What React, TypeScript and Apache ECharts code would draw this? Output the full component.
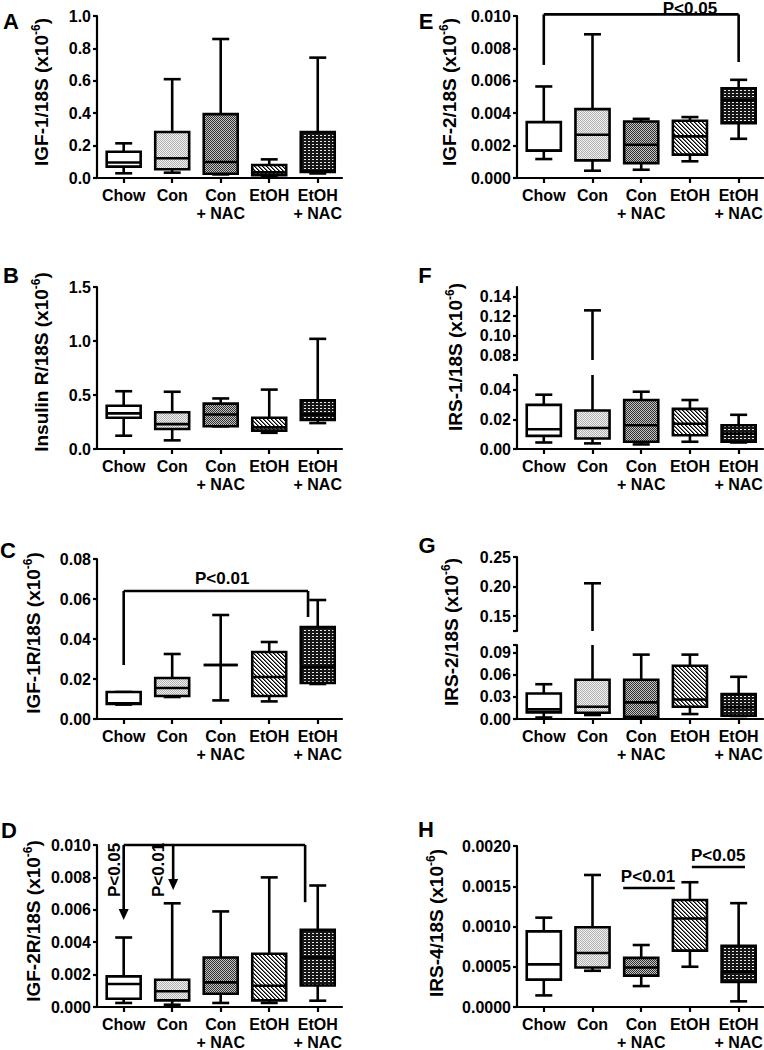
import React, { useEffect, useRef } from 'react';
import * as echarts from 'echarts';

// ---------- data ----------
const groupNames = ['Chow', 'Con', 'Con\n+ NAC', 'EtOH', 'EtOH\n+ NAC'];
const groupPositions = [0, 1, 2, 3, 4];

// each row: [min, Q1, median, Q3, max]
const igf1 = [
  [0.029, 0.07, 0.096, 0.162, 0.214],
  [0.033, 0.054, 0.122, 0.284, 0.61],
  [0.022, 0.026, 0.099, 0.394, 0.858],
  [0.012, 0.018, 0.035, 0.08, 0.115],
  [0.028, 0.038, 0.042, 0.284, 0.743],
];
const insulinR = [
  [0.123, 0.29, 0.33, 0.40, 0.535],
  [0.08, 0.185, 0.23, 0.34, 0.53],
  [0.21, 0.21, 0.32, 0.42, 0.468],
  [0.15, 0.17, 0.20, 0.29, 0.55],
  [0.24, 0.27, 0.32, 0.45, 1.02],
];
const igf1r = [
  [0.0072, 0.0075, 0.0078, 0.0135, 0.0135],
  [0.011, 0.0115, 0.0155, 0.0205, 0.0325],
  [0.0093, 0.027, 0.027, 0.027, 0.052],
  [0.0088, 0.0115, 0.021, 0.0335, 0.0385],
  [0.0175, 0.018, 0.026, 0.046, 0.0595],
];
const igf2r = [
  [0.00025, 0.00051, 0.00142, 0.00189, 0.00429],
  [0.00014, 0.00041, 0.00097, 0.00168, 0.0064],
  [0.00025, 0.00082, 0.00152, 0.00306, 0.0059],
  [0.00025, 0.00041, 0.00131, 0.00329, 0.008],
  [0.00039, 0.00133, 0.00306, 0.00476, 0.0075],
];
const igf2 = [
  [0.00117, 0.00168, 0.0017, 0.00345, 0.00565],
  [0.00045, 0.00109, 0.00267, 0.00425, 0.00887],
  [0.00051, 0.00092, 0.00205, 0.00349, 0.00365],
  [0.00103, 0.00144, 0.00257, 0.00353, 0.00376],
  [0.00242, 0.00339, 0.0048, 0.00554, 0.00606],
];
const irs1 = [
  [0.0044, 0.0089, 0.0133, 0.0298, 0.0367],
  [0.0038, 0.0071, 0.0142, 0.026, 0.126],
  [0.0031, 0.0049, 0.016, 0.0331, 0.0387],
  [0.0049, 0.0093, 0.0171, 0.0271, 0.0331],
  [0.0044, 0.0049, 0.0104, 0.016, 0.0231],
];
const irs2 = [
  [0.002, 0.009, 0.013, 0.0345, 0.047],
  [0.0054, 0.0085, 0.0165, 0.053, 0.2056],
  [0.001, 0.003, 0.0224, 0.053, 0.087],
  [0.0067, 0.0166, 0.0264, 0.072, 0.087],
  [0.004, 0.0045, 0.016, 0.0336, 0.057],
];
const irs4 = [
  [0.000144, 0.00034, 0.00053, 0.00094, 0.00111],
  [0.00045, 0.00049, 0.00067, 0.00099, 0.00164],
  [0.00026, 0.00039, 0.00049, 0.00061, 0.00077],
  [0.0005, 0.0007, 0.0011, 0.00133, 0.00155],
  [0.00007, 0.00031, 0.00044, 0.00076, 0.00129],
];

// tick labels
const ticksA = [0, 0.2, 0.4, 0.6, 0.8, 1.0];
const ticksB = [0, 0.5, 1.0, 1.5];
const ticksC = [0, 0.02, 0.04, 0.06, 0.08];
const ticksD = [0, 0.002, 0.004, 0.006, 0.008, 0.01];
const ticksE = [0, 0.002, 0.004, 0.006, 0.008, 0.01];
const ticksFUpper = [0.08, 0.10, 0.12, 0.14];
const ticksFLower = [0, 0.02, 0.04];
const ticksGUpper = [0.15, 0.20, 0.25];
const ticksGLower = [0, 0.03, 0.06, 0.09];
const ticksH = [0, 0.0005, 0.001, 0.0015, 0.002];

// significance annotations (data space)
const annC = {
  lines: [[0, 0.027, 0, 0.064], [0, 0.064, 3.8, 0.064], [3.8, 0.064, 3.8, 0.051]],
  arrows: [],
  texts: [{ text: 'P<0.01', x: 2.03, y: 0.0705, vertical: false }],
};
const annD = {
  lines: [[0, 0.01, 3.74, 0.01], [3.74, 0.01, 3.74, 0.00647]],
  arrows: [[0, 0.01, 0.00537], [1.02, 0.01, 0.00722]],
  texts: [
    { text: 'P<0.05', x: -0.18, y: 0.00846, vertical: true },
    { text: 'P<0.01', x: 0.71, y: 0.00846, vertical: true },
  ],
};
const annE = {
  lines: [[0, 0.00698, 0, 0.0101], [0, 0.0101, 4, 0.0101], [4, 0.0101, 4, 0.00716]],
  arrows: [],
  texts: [{ text: 'P<0.05', x: 3.0, y: 0.01047, vertical: false }],
};
const annH = {
  lines: [[1.63, 0.001478, 2.69, 0.001478], [3.04, 0.00174, 4.13, 0.00174]],
  arrows: [],
  texts: [
    { text: 'P<0.01', x: 2.14, y: 0.001615, vertical: false },
    { text: 'P<0.05', x: 3.58, y: 0.001876, vertical: false },
  ],
};

// ---------- style / layout ----------
const FONT = '"Liberation Sans", Arial, Helvetica, sans-serif';
const LW = 2.6;
const AXW = 2.2;

function makePattern(w: number, h: number, draw: (ctx: CanvasRenderingContext2D) => void) {
  const c = document.createElement('canvas');
  c.width = w;
  c.height = h;
  const ctx = c.getContext('2d') as CanvasRenderingContext2D;
  draw(ctx);
  return { image: c.toDataURL(), repeat: 'repeat', imageWidth: w, imageHeight: h };
}

function buildFills(): any[] {
  const con = makePattern(2, 2, (ctx) => {
    ctx.fillStyle = '#f2f2f2';
    ctx.fillRect(0, 0, 2, 2);
    ctx.fillStyle = '#b0b0b0';
    ctx.fillRect(0, 0, 1, 1);
    ctx.fillRect(1, 1, 1, 1);
  });
  const conNac = makePattern(2, 2, (ctx) => {
    ctx.fillStyle = '#c4c4c4';
    ctx.fillRect(0, 0, 2, 2);
    ctx.fillStyle = '#303030';
    ctx.fillRect(0, 0, 1, 1);
    ctx.fillRect(1, 1, 1, 1);
  });
  const etoh = makePattern(4, 4, (ctx) => {
    for (let y = 0; y < 4; y++) {
      for (let x = 0; x < 4; x++) {
        const m = (x - y + 8) % 4;
        ctx.fillStyle = m === 0 ? '#000' : m === 1 ? '#707070' : '#fff';
        ctx.fillRect(x, y, 1, 1);
      }
    }
  });
  const etohNac = makePattern(4, 3, (ctx) => {
    ctx.fillStyle = '#161616';
    ctx.fillRect(0, 0, 4, 3);
    ctx.fillStyle = '#e8e8e8';
    ctx.fillRect(0, 0, 2, 1);
  });
  return ['#ffffff', con, conNac, etoh, etohNac];
}

type Panel = {
  data: number[][];
  min: number;
  max: number;
  ticks: number[];
  breakTicks: number[];
  dec: number;
  col: number;
  top: number;
  height: number;
  showX: boolean;
  clip: boolean;
  ann?: any;
};

const panels: Panel[] = [
  { data: igf1, min: 0, max: 1, ticks: ticksA, breakTicks: [], dec: 1, col: 0, top: 16, height: 162, showX: true, clip: false },
  { data: insulinR, min: 0, max: 1.5, ticks: ticksB, breakTicks: [], dec: 1, col: 0, top: 287, height: 162, showX: true, clip: false },
  { data: igf1r, min: 0, max: 0.08, ticks: ticksC, breakTicks: [], dec: 2, col: 0, top: 559, height: 160, showX: true, clip: false, ann: annC },
  { data: igf2r, min: 0, max: 0.01, ticks: ticksD, breakTicks: [], dec: 3, col: 0, top: 845, height: 162, showX: true, clip: false, ann: annD },
  { data: igf2, min: 0, max: 0.01, ticks: ticksE, breakTicks: [], dec: 3, col: 1, top: 16, height: 162, showX: true, clip: false, ann: annE },
  { data: irs1, min: 0.075, max: 0.15, ticks: ticksFUpper, breakTicks: [0.075], dec: 2, col: 1, top: 287, height: 73, showX: false, clip: true },
  { data: irs1, min: 0, max: 0.05, ticks: ticksFLower, breakTicks: [0.05], dec: 2, col: 1, top: 375, height: 74, showX: true, clip: true },
  { data: irs2, min: 0.125, max: 0.25, ticks: ticksGUpper, breakTicks: [0.125], dec: 2, col: 1, top: 557, height: 74, showX: false, clip: true },
  { data: irs2, min: 0, max: 0.1, ticks: ticksGLower, breakTicks: [0.1], dec: 2, col: 1, top: 645, height: 74, showX: true, clip: true },
  { data: irs4, min: 0, max: 0.002, ticks: ticksH, breakTicks: [], dec: 4, col: 1, top: 846, height: 161, showX: true, clip: false, ann: annH },
];

const letters = [
  { t: 'A', x: 11, y: 21 }, { t: 'B', x: 11, y: 275 }, { t: 'C', x: 8, y: 550 }, { t: 'D', x: 9, y: 830 },
  { t: 'E', x: 426, y: 21 }, { t: 'F', x: 425, y: 275 }, { t: 'G', x: 427, y: 545 }, { t: 'H', x: 426, y: 829 },
];
const titles = [
  { t: 'IGF-1/18S', x: 41, y: 92 },
  { t: 'Insulin R/18S', x: 41, y: 362 },
  { t: 'IGF-1R/18S', x: 33, y: 633 },
  { t: 'IGF-2R/18S', x: 33, y: 921 },
  { t: 'IGF-2/18S', x: 449, y: 92 },
  { t: 'IRS-1/18S', x: 455, y: 357 },
  { t: 'IRS-2/18S', x: 451, y: 632 },
  { t: 'IRS-4/18S', x: 436, y: 923 },
];

function txtStyle(text: string, size: number, extra: any = {}) {
  return {
    text,
    fontSize: size,
    fontWeight: 'bold',
    fontFamily: FONT,
    fill: '#000',
    align: 'center',
    verticalAlign: 'middle',
    textAlign: 'center',
    textVerticalAlign: 'middle',
    ...extra,
  };
}

function makeBoxRenderer(fills: any[]) {
  return (params: any, api: any) => {
    const x = api.value(0) as number;
    const v = [1, 2, 3, 4, 5].map((d) => api.value(d) as number);
    const unit = api.size([1, 0])[0];
    const bw = unit * 0.7;
    const cw = bw * 0.5;
    const p = v.map((val) => api.coord([x, val]));
    const cx = p[0][0];
    const [yMin, yQ1, yMed, yQ3, yMax] = p.map((q: number[]) => q[1]);
    const st = { stroke: '#000', lineWidth: LW };
    const children: any[] = [
      { type: 'line', shape: { x1: cx, y1: yQ1, x2: cx, y2: yMin }, style: st },
      { type: 'line', shape: { x1: cx, y1: yQ3, x2: cx, y2: yMax }, style: st },
      { type: 'line', shape: { x1: cx - cw / 2, y1: yMin, x2: cx + cw / 2, y2: yMin }, style: st },
      { type: 'line', shape: { x1: cx - cw / 2, y1: yMax, x2: cx + cw / 2, y2: yMax }, style: st },
      {
        type: 'rect',
        shape: { x: cx - bw / 2, y: yQ3, width: bw, height: yQ1 - yQ3 },
        style: { fill: fills[Math.round(x)], stroke: '#000', lineWidth: LW, lineJoin: 'miter' },
      },
      { type: 'line', shape: { x1: cx - bw / 2, y1: yMed, x2: cx + bw / 2, y2: yMed }, style: st },
    ];
    return { type: 'group', children };
  };
}

function makeAnnRenderer(ann: any) {
  return (params: any, api: any) => {
    const children: any[] = [];
    const st = { stroke: '#000', lineWidth: LW };
    ann.lines.forEach((l: number[]) => {
      const a = api.coord([l[0], l[1]]);
      const b = api.coord([l[2], l[3]]);
      children.push({ type: 'line', shape: { x1: a[0], y1: a[1], x2: b[0], y2: b[1] }, style: st });
    });
    ann.arrows.forEach((ar: number[]) => {
      const a = api.coord([ar[0], ar[1]]);
      const t = api.coord([ar[0], ar[2]]);
      children.push({ type: 'line', shape: { x1: a[0], y1: a[1], x2: t[0], y2: t[1] - 9 }, style: st });
      children.push({
        type: 'polygon',
        shape: { points: [[t[0] - 5, t[1] - 11], [t[0] + 5, t[1] - 11], [t[0], t[1]]] },
        style: { fill: '#000' },
      });
    });
    ann.texts.forEach((tx: any) => {
      const c = api.coord([tx.x, tx.y]);
      children.push({
        type: 'text',
        x: c[0],
        y: c[1],
        rotation: tx.vertical ? Math.PI / 2 : 0,
        style: txtStyle(tx.text, 17),
      });
    });
    return { type: 'group', children };
  };
}

function buildOption(): any {
  const fills = buildFills();
  const axisLineStyle = { color: '#000', width: AXW };
  const grid: any[] = [];
  const xAxis: any[] = [];
  const yAxis: any[] = [];
  const series: any[] = [];

  panels.forEach((p, i) => {
    grid.push({
      left: p.col === 0 ? 97 : 517,
      width: p.col === 0 ? 245 : 246,
      top: p.top,
      height: p.height,
      containLabel: false,
      outerBoundsMode: 'none',
    });
    xAxis.push({
      gridIndex: i,
      type: 'value',
      min: -0.55,
      max: 4.5,
      show: p.showX,
      axisLine: { show: true, onZero: false, lineStyle: axisLineStyle },
      axisTick: { show: true, customValues: groupPositions, length: 5, lineStyle: axisLineStyle },
      axisLabel: {
        customValues: groupPositions,
        formatter: (v: number) => groupNames[Math.round(v)] ?? '',
        fontSize: 16,
        fontWeight: 'bold',
        fontFamily: FONT,
        color: '#000',
        margin: 8,
        lineHeight: 18,
        align: 'center',
      },
      splitLine: { show: false },
    });
    yAxis.push({
      gridIndex: i,
      type: 'value',
      min: p.min,
      max: p.max,
      axisLine: { show: true, onZero: false, lineStyle: axisLineStyle },
      axisTick: { show: true, customValues: [...p.ticks, ...p.breakTicks], length: 4, lineStyle: axisLineStyle },
      axisLabel: {
        customValues: p.ticks,
        formatter: (v: number) => v.toFixed(p.dec),
        fontSize: 16,
        fontWeight: 'bold',
        fontFamily: FONT,
        color: '#000',
        margin: 6,
      },
      splitLine: { show: false },
    });
    series.push({
      type: 'custom',
      xAxisIndex: i,
      yAxisIndex: i,
      clip: p.clip,
      silent: true,
      encode: { x: 0, y: [1, 2, 3, 4, 5] },
      data: p.data.map((r, k) => [groupPositions[k], ...r]),
      renderItem: makeBoxRenderer(fills),
    });
    if (p.ann) {
      series.push({
        type: 'custom',
        xAxisIndex: i,
        yAxisIndex: i,
        clip: false,
        silent: true,
        data: [[0, 0]],
        renderItem: makeAnnRenderer(p.ann),
      });
    }
  });

  const graphic: any[] = [
    ...letters.map((l) => ({ type: 'text', x: l.x, y: l.y, style: txtStyle(l.t, 22) })),
    ...titles.map((t) => ({
      type: 'text',
      x: t.x,
      y: t.y,
      rotation: Math.PI / 2,
      style: txtStyle(`{m|${t.t} (x10}{s|-6}{m|)}`, 19, {
        rich: {
          m: { fontSize: 19, fontWeight: 'bold', fontFamily: FONT, fill: '#000' },
          s: { fontSize: 12, fontWeight: 'bold', fontFamily: FONT, fill: '#000', padding: [0, 0, 10, 0] },
        },
      }),
    })),
  ];

  return {
    animation: false,
    backgroundColor: '#ffffff',
    grid,
    xAxis,
    yAxis,
    series,
    graphic,
  };
}

export default function App() {
  const ref = useRef<HTMLDivElement>(null);
  useEffect(() => {
    document.body.style.margin = '0';
    if (!ref.current) return;
    const chart = echarts.init(ref.current, undefined, { renderer: 'svg' });
    chart.setOption(buildOption());
    return () => chart.dispose();
  }, []);
  return (
    <div
      ref={ref}
      style={{ position: 'absolute', left: 0, top: 0, width: 764, height: 1050, background: '#fff' }}
    />
  );
}
